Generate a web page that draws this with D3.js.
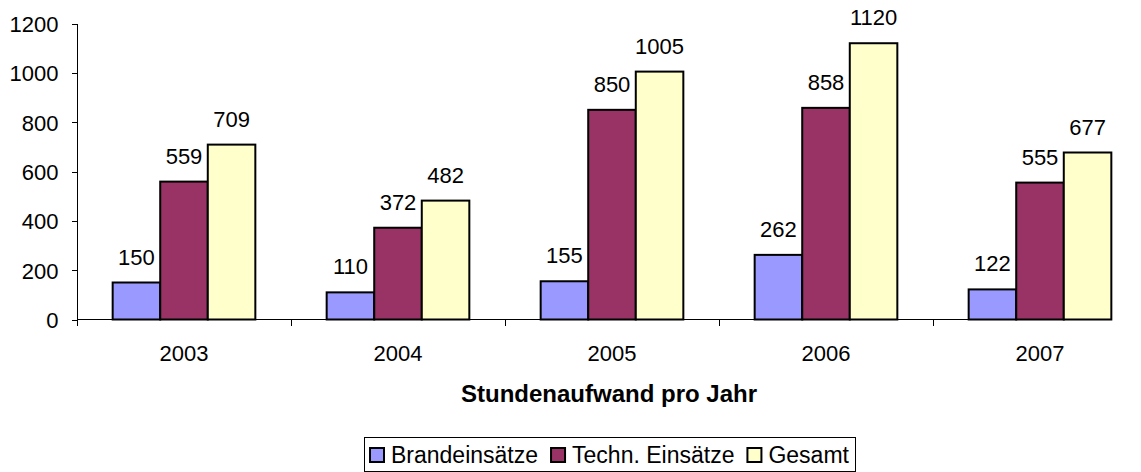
<!DOCTYPE html>
<html lang="en">
<head>
    <meta charset="UTF-8">
    <title>Stundenaufwand pro Jahr</title>
    <script src="https://d3js.org/d3.v7.min.js"></script>
    <style>
        body { margin: 0; background: #fff; }
        svg text {
            font-family: "Liberation Sans", Arial, sans-serif;
            font-size: 22px;
            fill: #000;
        }
        .axis path, .axis line { stroke: #000; shape-rendering: crispEdges; }
        .bar { stroke: #000; stroke-width: 2px; }
        .title { font-weight: bold; font-size: 24px !important; }
        .legend text { font-size: 23px; }
    </style>
</head>
<body>
    <script>
        // Data
        const years = ["2003", "2004", "2005", "2006", "2007"];
        const series = ["Brandeinsätze", "Techn. Einsätze", "Gesamt"];
        const brand = [150, 110, 155, 262, 122];
        const techn = [559, 372, 850, 858, 555];
        const gesamt = [709, 482, 1005, 1120, 677];
        const yTicks = [0, 200, 400, 600, 800, 1000, 1200];
        const colors = ["#9999ff", "#993366", "#ffffcc"];

        const values = [brand, techn, gesamt];
        const data = years.map((yr, i) => ({
            year: yr,
            vals: series.map((s, j) => ({key: s, value: values[j][i]}))
        }));

        const width = 1141, height = 472;
        const svg = d3.select("body").append("svg")
            .attr("width", width)
            .attr("height", height);

        // Scales
        const x0 = d3.scaleBand()
            .domain(years)
            .range([77, 1147])
            .paddingInner(0)
            .paddingOuter(0);

        const x1 = d3.scaleBand()
            .domain(series)
            .range([0, x0.bandwidth()])
            .paddingInner(0)
            .paddingOuter(0.75);

        const y = d3.scaleLinear()
            .domain([0, 1200])
            .range([319.5, 23.5]);

        // Y axis
        const yAxis = svg.append("g")
            .attr("class", "axis")
            .attr("transform", "translate(77.5,0)")
            .call(d3.axisLeft(y).tickValues(yTicks).tickFormat(d3.format("d"))
                .tickSize(6).tickSizeOuter(0).tickPadding(13));
        yAxis.selectAll("text").attr("dy", "0.36em");
        yAxis.select(".domain").attr("d", `M0,${y(1200)}V${y(0) + 6}`);

        // X axis: tick marks at category boundaries
        const xb = d3.scaleLinear().domain([0, years.length]).range(x0.range());
        const lastEnd = x0(years[years.length - 1]) + x1(series[series.length - 1]) + x1.bandwidth();
        const xAxis = svg.append("g")
            .attr("class", "axis")
            .attr("transform", `translate(0,${y(0)})`)
            .call(d3.axisBottom(xb).tickValues(d3.range(years.length)).tickFormat("").tickSize(6).tickSizeOuter(0));
        xAxis.select(".domain").attr("d", `M${x0.range()[0]},0H${lastEnd + 1}`);

        // Year labels
        svg.append("g")
            .selectAll("text")
            .data(years)
            .join("text")
            .attr("x", d => x0(d) + x0.bandwidth() / 2)
            .attr("y", 361)
            .attr("text-anchor", "middle")
            .text(d => d);

        // Bars
        const groups = svg.append("g")
            .selectAll("g")
            .data(data)
            .join("g")
            .attr("transform", d => `translate(${x0(d.year)},0)`);

        groups.selectAll("rect")
            .data(d => d.vals)
            .join("rect")
            .attr("class", "bar")
            .attr("x", d => x1(d.key))
            .attr("y", d => y(d.value))
            .attr("width", x1.bandwidth())
            .attr("height", d => y(0) - y(d.value))
            .attr("fill", (d, i) => colors[i]);

        // Value labels
        groups.selectAll("text")
            .data(d => d.vals)
            .join("text")
            .attr("x", d => x1(d.key) + x1.bandwidth() / 2)
            .attr("y", d => y(d.value) - 18)
            .attr("text-anchor", "middle")
            .text(d => d.value);

        // Axis title
        svg.append("text")
            .attr("class", "title")
            .attr("x", 609)
            .attr("y", 402)
            .attr("text-anchor", "middle")
            .text("Stundenaufwand pro Jahr");

        // Legend
        const legend = svg.append("g").attr("class", "legend");
        const legendBox = legend.append("rect")
            .attr("y", 437.5)
            .attr("height", 34)
            .attr("fill", "#fff")
            .attr("stroke", "#000")
            .attr("stroke-width", 1);

        let lx = 0;
        const items = legend.append("g");
        series.forEach((s, i) => {
            const it = items.append("g").attr("transform", `translate(${lx},0)`);
            it.append("rect")
                .attr("x", 0)
                .attr("y", 448)
                .attr("width", 14)
                .attr("height", 14)
                .attr("fill", colors[i])
                .attr("stroke", "#000")
                .attr("stroke-width", 2);
            const t = it.append("text")
                .attr("x", 21)
                .attr("y", 463)
                .text(s);
            lx += 21 + t.node().getComputedTextLength() + 13;
        });
        const itemsW = lx - 13;
        const boxW = itemsW + 12;
        const boxX = 609 - boxW / 2;
        legendBox.attr("x", Math.round(boxX) + 0.5).attr("width", Math.round(boxW));
        items.attr("transform", `translate(${Math.round(boxX) + 6},0)`);
    </script>
</body>
</html>
